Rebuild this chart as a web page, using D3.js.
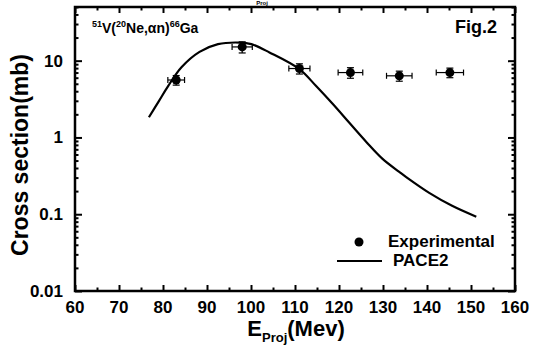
<!DOCTYPE html>
<html>
<head>
<meta charset="utf-8">
<script src="https://cdn.jsdelivr.net/npm/d3@7"></script>
<style>
  body { margin: 0; background: #fff; }
  svg text { font-family: "Liberation Sans", Arial, sans-serif; font-weight: bold; fill: #000; }
</style>
</head>
<body>
<div id="chart"></div>
<script>
// experimental points
const expE = [83, 98, 111, 122.6, 133.7, 145.2]
const expSigma = [5.6, 15.1, 7.9, 7.0, 6.35, 7.0]
const expErrE = [1.9, 2.3, 2.4, 2.8, 2.9, 3.1]
const expErrSigma = [0.8, 2.5, 1.2, 1.1, 0.95, 1.0]

// PACE2 calculation
const paceE = [76.8, 79.1, 81.2, 84.2, 88.3, 92.5, 97.4, 100.1, 104.2, 111, 114.8, 118.6, 122.4, 126.2, 129.9, 133.7, 135.2, 140.5, 145.7, 151.2]
const paceSigma = [1.83, 3.0, 4.7, 8.2, 13.0, 16.4, 17.2, 16.4, 12.8, 7.76, 4.67, 2.72, 1.54, 0.875, 0.526, 0.356, 0.307, 0.19, 0.129, 0.093]

const xTicks = [60, 70, 80, 90, 100, 110, 120, 130, 140, 150, 160]
const yTicks = [0.01, 0.1, 1, 10]
const yTickLabels = ['0.01', '0.1', '1', '10']

const W = 535, H = 347
const margin = {top: 7, right: 20, bottom: 56, left: 75}
const iw = W - margin.left - margin.right
const ih = H - margin.top - margin.bottom

const svg = d3.select('#chart').append('svg')
    .attr('width', W)
    .attr('height', H)

const x = d3.scaleLinear().domain([60, 160]).range([0, iw])
const y = d3.scaleLog().domain([0.01, 50]).range([ih, 0])

const minorX = d3.range(65, 160, 10)
const minorY = []
yTicks.forEach(d => {
    for (let k = 2; k <= 9; k++) {
        if (d * k <= 50) minorY.push(d * k)
    }
})

const g = svg.append('g')
    .attr('transform', 'translate(' + margin.left + ',' + margin.top + ')')

// frame
g.append('path')
    .attr('d', 'M0,0H' + iw + 'V' + ih + 'H0Z')
    .style('fill', 'none')
    .style('stroke', '#000')
    .style('stroke-width', '2.5px')

// inward ticks on all four sides
function tickAxis(axisFn, scale, vals, len, tx, ty) {
    const a = g.append('g')
        .attr('transform', 'translate(' + tx + ',' + ty + ')')
        .call(axisFn(scale).tickValues(vals).tickSize(len).tickFormat(''))
    a.select('.domain').remove()
    a.selectAll('line').style('stroke', '#000').style('stroke-width', '2px')
}
tickAxis(d3.axisTop, x, xTicks, 6, 0, ih)
tickAxis(d3.axisTop, x, minorX, 3.5, 0, ih)
tickAxis(d3.axisBottom, x, xTicks, 6, 0, 0)
tickAxis(d3.axisBottom, x, minorX, 3.5, 0, 0)
tickAxis(d3.axisRight, y, yTicks, 7, 0, 0)
tickAxis(d3.axisRight, y, minorY, 3.5, 0, 0)
tickAxis(d3.axisLeft, y, yTicks, 7, iw, 0)
tickAxis(d3.axisLeft, y, minorY, 3.5, iw, 0)

// tick labels
g.append('g').selectAll('text').data(xTicks).join('text')
    .attr('x', d => x(d)).attr('y', ih + 22)
    .attr('text-anchor', 'middle')
    .style('font-size', '17px')
    .text(d => d)

g.append('g').selectAll('text').data(yTicks).join('text')
    .attr('x', -12).attr('y', d => y(d) + 6)
    .attr('text-anchor', 'end')
    .style('font-size', '17px')
    .text((d, i) => yTickLabels[i])

// PACE2 curve
const line = d3.line()
    .x((d, i) => x(paceE[i]))
    .y(d => y(d))
    .curve(d3.curveCatmullRom)
g.append('path')
    .datum(paceSigma)
    .attr('d', line)
    .style('fill', 'none')
    .style('stroke', '#000')
    .style('stroke-width', '2.2px')

// experimental points with error bars
const pts = g.append('g').selectAll('g').data(expE).join('g')
    .style('stroke', '#000').style('stroke-width', '1.2px')
pts.append('line')
    .attr('x1', (d, i) => x(d - expErrE[i])).attr('x2', (d, i) => x(d + expErrE[i]))
    .attr('y1', (d, i) => y(expSigma[i])).attr('y2', (d, i) => y(expSigma[i]))
pts.append('line')
    .attr('x1', d => x(d)).attr('x2', d => x(d))
    .attr('y1', (d, i) => y(expSigma[i] - expErrSigma[i])).attr('y2', (d, i) => y(expSigma[i] + expErrSigma[i]))
pts.each(function(d, i) {
    const s = d3.select(this)
    const cy = y(expSigma[i])
    ;[d - expErrE[i], d + expErrE[i]].forEach(v => {
        s.append('line').attr('x1', x(v)).attr('x2', x(v)).attr('y1', cy - 3).attr('y2', cy + 3)
    })
    ;[expSigma[i] - expErrSigma[i], expSigma[i] + expErrSigma[i]].forEach(v => {
        s.append('line').attr('x1', x(d) - 3.5).attr('x2', x(d) + 3.5).attr('y1', y(v)).attr('y2', y(v))
    })
})
pts.append('circle')
    .attr('cx', d => x(d)).attr('cy', (d, i) => y(expSigma[i]))
    .attr('r', 4.5).style('fill', '#000').style('stroke', 'none')

// reaction label
const title = g.append('text').attr('x', 17).attr('y', 26).style('font-size', '14px')
title.append('tspan').attr('dy', -6).style('font-size', '9px').text('51')
title.append('tspan').attr('dy', 6).text('V(')
title.append('tspan').attr('dy', -6).style('font-size', '9px').text('20')
title.append('tspan').attr('dy', 6).text('Ne,αn)')
title.append('tspan').attr('dy', -6).style('font-size', '9px').text('66')
title.append('tspan').attr('dy', 6).text('Ga')

g.append('text').attr('x', iw - 18).attr('y', 26)
    .attr('text-anchor', 'end').style('font-size', '18px').text('Fig.2')

// legend
g.append('circle').attr('cx', 284).attr('cy', 235).attr('r', 4.5).style('fill', '#000')
g.append('text').attr('x', 313).attr('y', 240).style('font-size', '17px').text('Experimental')
g.append('line').attr('x1', 262).attr('x2', 307).attr('y1', 254).attr('y2', 254)
    .style('stroke', '#000').style('stroke-width', '2.2px')
g.append('text').attr('x', 318).attr('y', 259).style('font-size', '17px').text('PACE2')

// axis titles
const xt = svg.append('text').attr('x', 296).attr('y', 336)
    .attr('text-anchor', 'middle').style('font-size', '22px')
xt.append('tspan').text('E')
xt.append('tspan').attr('dy', 6).style('font-size', '13px').text('Proj')
xt.append('tspan').attr('dy', -6).text('(Mev)')

svg.append('text')
    .attr('transform', 'translate(28,155) rotate(-90)')
    .attr('text-anchor', 'middle')
    .style('font-size', '23px')
    .text('Cross section(mb)')

// small header fragment above the frame
svg.append('text').attr('x', 262).attr('y', 5).attr('text-anchor', 'middle')
    .style('font-size', '6px').text('Proj')
</script>
</body>
</html>
